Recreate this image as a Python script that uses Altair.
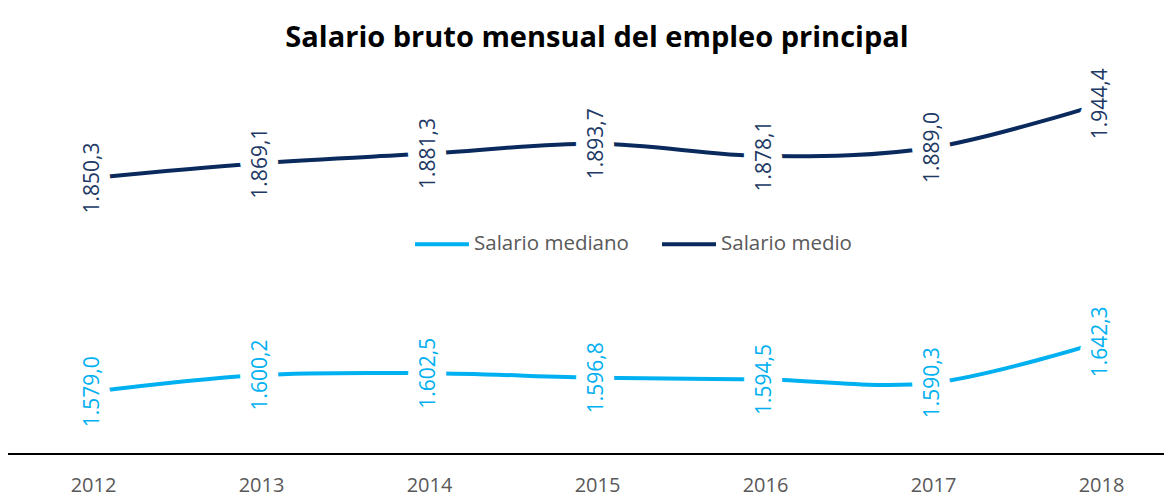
import altair as alt
import pandas as pd

years = ["2012", "2013", "2014", "2015", "2016", "2017", "2018"]
salario_medio = [1850.3, 1869.1, 1881.3, 1893.7, 1878.1, 1889.0, 1944.4]
salario_mediano = [1579.0, 1600.2, 1602.5, 1596.8, 1594.5, 1590.3, 1642.3]
series = ["Salario mediano", "Salario medio"]


def es_fmt(v):
    s = f"{v:,.1f}"
    return s.replace(",", "X").replace(".", ",").replace("X", ".")


rows = []
for y, v in zip(years, salario_mediano):
    rows.append({"year": y, "serie": series[0], "value": v, "label": es_fmt(v)})
for y, v in zip(years, salario_medio):
    rows.append({"year": y, "serie": series[1], "value": v, "label": es_fmt(v)})
df = pd.DataFrame(rows)

LIGHT = "#00B0F0"
DARK = "#0A2A5E"
DARK_TEXT = "#203864"
FONT = "Open Sans"
W, H = 1156, 394

x_enc = alt.X(
    "year:O",
    scale=alt.Scale(type="point", range=[85, 1093], padding=0),
    axis=alt.Axis(
        title=None, labelAngle=0, ticks=False, tickSize=0, grid=False,
        domain=False, labelFontSize=20, labelBaseline="middle",
        labelFont=FONT, labelColor="#595959", labelPadding=31,
    ),
)
y_enc = alt.Y("value:Q", scale=alt.Scale(domain=[1500, 2000], zero=False, nice=False), axis=None)

color_enc = alt.Color(
    "serie:N",
    scale=alt.Scale(domain=series, range=[LIGHT, DARK]),
    legend=alt.Legend(
        orient="none", legendX=405, legendY=155, direction="horizontal",
        title=None, symbolType="stroke", symbolSize=2916, symbolStrokeWidth=4,
        labelFontSize=20.5, labelFont=FONT, labelColor="#595959",
        columnPadding=25, labelOffset=3, padding=0,
    ),
)

base = alt.Chart(df).encode(x=x_enc, y=y_enc)
line = base.mark_line(strokeWidth=4, interpolate="cardinal").encode(color=color_enc)
halo = base.mark_text(
    angle=270, fontSize=21, font=FONT, color="white", stroke="white",
    strokeWidth=22, strokeJoin="round", align="center", baseline="middle",
).encode(text="label:N")
text = base.mark_text(
    angle=270, fontSize=21, font=FONT, align="center", baseline="middle",
).encode(
    text="label:N",
    color=alt.condition(alt.datum.serie == series[1], alt.value(DARK_TEXT), alt.value(LIGHT)),
)
axis_line = alt.Chart(df).mark_rule(color="black", strokeWidth=2).encode(
    x=alt.value(0), x2=alt.value(W), y=alt.value(H)
)

chart = (
    alt.layer(line, halo, text, axis_line)
    .properties(
        width=W,
        height=H,
        padding={"left": 0, "top": 52, "right": 0, "bottom": 44},
        autosize="none",
        title=alt.TitleParams(
            "Salario bruto mensual del empleo principal",
            font=FONT, fontSize=29, fontWeight="bold", color="black",
            anchor="middle", baseline="alphabetic", offset=14, dx=11, dy=30,
        ),
    )
    .configure_view(stroke=None)
)

chart.save("out.html", embed_options={"renderer": "svg", "actions": False})
